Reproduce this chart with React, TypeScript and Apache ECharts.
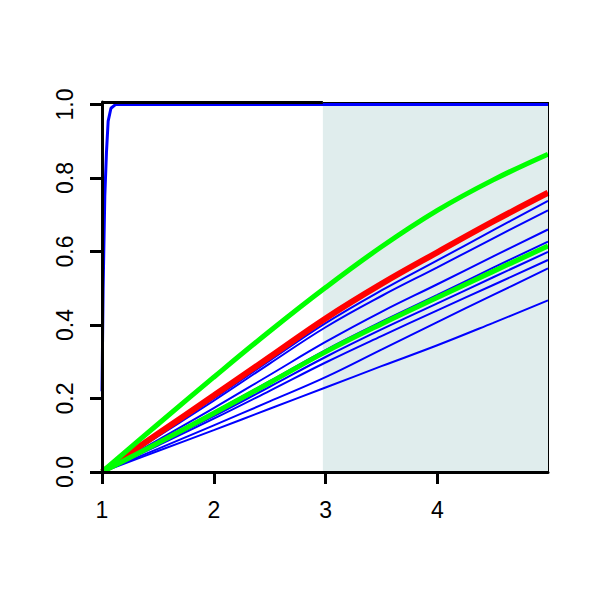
import React, { useEffect, useRef } from "react";
import * as echarts from "echarts";

// ---- data ----
const X_POINTS = [1, 1.5, 2, 2.5, 3, 3.5, 4, 4.5, 4.99];
const GREEN_UPPER = [0, 0.13, 0.258, 0.383, 0.502, 0.613, 0.712, 0.795, 0.865];
const RED_CURVE = [0, 0.104, 0.208, 0.313, 0.418, 0.512, 0.598, 0.682, 0.76];
const GREEN_LOWER = [0, 0.079, 0.16, 0.243, 0.327, 0.403, 0.475, 0.546, 0.615];
const BLUE_A = [0, 0.1, 0.2, 0.303, 0.405, 0.494, 0.576, 0.658, 0.738];
const BLUE_B = [0, 0.097, 0.194, 0.295, 0.394, 0.479, 0.557, 0.636, 0.712];
const BLUE_C = [0, 0.087, 0.174, 0.264, 0.354, 0.436, 0.511, 0.587, 0.66];
const BLUE_D = [0, 0.081, 0.163, 0.247, 0.332, 0.409, 0.482, 0.556, 0.627];
const BLUE_E = [0, 0.076, 0.152, 0.232, 0.313, 0.388, 0.459, 0.53, 0.599];
const BLUE_F = [0, 0.072, 0.145, 0.221, 0.298, 0.37, 0.44, 0.509, 0.577];
const BLUE_G = [0, 0.063, 0.127, 0.192, 0.258, 0.333, 0.408, 0.482, 0.554];
const BLUE_H = [0, 0.057, 0.114, 0.172, 0.23, 0.288, 0.345, 0.406, 0.467];
const BLUE_CURVES = [BLUE_A, BLUE_B, BLUE_C, BLUE_D, BLUE_E, BLUE_F, BLUE_G, BLUE_H];

const STEEP_X = [1, 1.003, 1.01, 1.025, 1.04, 1.055, 1.08, 1.12, 4.99];
const STEEP_Y = [0.22, 0.3, 0.5, 0.75, 0.87, 0.955, 0.99, 1.0, 1.0];

const X_TICKS = [1, 2, 3, 4];
const Y_TICKS = [0, 0.2, 0.4, 0.6, 0.8, 1.0];
const X_MIN = 1;
const X_MAX = 4.99;
const Y_MIN = 0;
const Y_MAX = 1.007;
const SHADE_START = 2.976;

const FONT = "Liberation Sans";

function pairs(xs: number[], ys: number[]) {
  return xs.map((x, i) => [x, ys[i]]);
}

export default function App() {
  const ref = useRef<HTMLDivElement>(null);

  useEffect(() => {
    if (!ref.current) return;
    const chart = echarts.init(ref.current, undefined, { renderer: "svg" });

    const lineBase = {
      type: "line" as const,
      showSymbol: false,
      symbol: "none",
      smooth: 0.4,
      silent: true,
    };

    const series: any[] = [
      {
        type: "line",
        data: [],
        z: 1,
        silent: true,
        markArea: {
          silent: true,
          itemStyle: { color: "#e0eded", borderWidth: 0 },
          data: [[{ coord: [SHADE_START, Y_MIN] }, { coord: [X_MAX, Y_MAX] }]],
        },
        markLine: {
          silent: true,
          symbol: ["none", "none"],
          label: { show: false },
          data: [
            [
              { coord: [X_MIN, Y_MAX], lineStyle: { color: "#000", width: 3, type: "solid" } },
              { coord: [SHADE_START, Y_MAX] },
            ],
            [
              { coord: [SHADE_START, Y_MAX], lineStyle: { color: "#000", width: 1, type: "solid" } },
              { coord: [X_MAX, Y_MAX] },
            ],
            [
              { coord: [X_MAX, Y_MIN], lineStyle: { color: "#000", width: 1, type: "solid" } },
              { coord: [X_MAX, Y_MAX] },
            ],
          ],
        },
      },
    ];

    BLUE_CURVES.forEach((ys) => {
      series.push({
        ...lineBase,
        z: 2,
        data: pairs(X_POINTS, ys),
        lineStyle: { color: "#0000ff", width: 2 },
      });
    });
    series.push({
      ...lineBase,
      z: 3,
      data: pairs(X_POINTS, RED_CURVE),
      lineStyle: { color: "#ff0000", width: 6 },
    });
    series.push({
      ...lineBase,
      z: 3,
      data: pairs(X_POINTS, GREEN_LOWER),
      lineStyle: { color: "#00ff00", width: 5 },
    });
    series.push({
      ...lineBase,
      z: 3,
      data: pairs(X_POINTS, GREEN_UPPER),
      lineStyle: { color: "#00ff00", width: 5 },
    });
    series.push({
      type: "line",
      showSymbol: false,
      symbol: "none",
      smooth: false,
      silent: true,
      z: 3,
      data: pairs(STEEP_X, STEEP_Y),
      lineStyle: { color: "#0000ff", width: 3 },
    });

    const labelStyle = {
      color: "#000",
      fontFamily: FONT,
      fontSize: 23,
      fontWeight: "normal" as const,
    };

    chart.setOption({
      animation: false,
      backgroundColor: "#ffffff",
      grid: { left: 102, right: 52, top: 102, bottom: 128, containLabel: false },
      xAxis: {
        type: "value",
        min: X_MIN,
        max: X_MAX,
        interval: 1,
        z: 10,
        axisLine: { show: true, onZero: false, lineStyle: { color: "#000", width: 3 } },
        axisTick: { show: true, length: 12, customValues: X_TICKS, lineStyle: { color: "#000", width: 3 } },
        axisLabel: {
          ...labelStyle,
          customValues: X_TICKS,
          margin: 26,
          formatter: (v: number) => String(v),
        },
        splitLine: { show: false },
      },
      yAxis: {
        type: "value",
        min: Y_MIN,
        max: Y_MAX,
        interval: 0.2,
        z: 10,
        axisLine: { show: true, onZero: false, lineStyle: { color: "#000", width: 3 } },
        axisTick: { show: true, length: 12, customValues: Y_TICKS, lineStyle: { color: "#000", width: 3 } },
        axisLabel: {
          ...labelStyle,
          customValues: Y_TICKS,
          rotate: 90,
          margin: 26,
          formatter: (v: number) => v.toFixed(1),
        },
        splitLine: { show: false },
      },
      series,
    });

    return () => chart.dispose();
  }, []);

  return (
    <div
      ref={ref}
      style={{ position: "fixed", left: 0, top: 0, width: 600, height: 600, background: "#fff" }}
    />
  );
}
